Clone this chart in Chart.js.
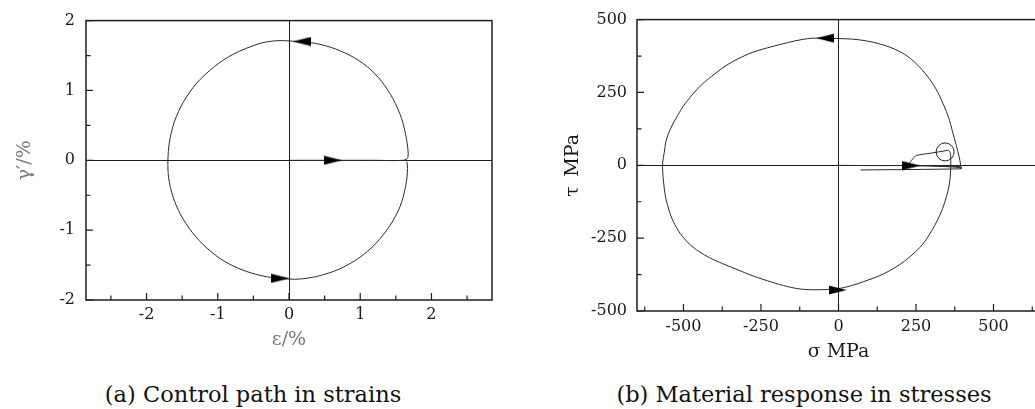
<!DOCTYPE html>
<html><head><meta charset="utf-8">
<script src="https://cdn.jsdelivr.net/npm/chart.js@4.4.0/dist/chart.umd.min.js"></script>
<style>
html,body{margin:0;padding:0;background:#fff;width:1035px;height:409px;overflow:hidden;position:relative;}
canvas{position:absolute;top:0;}
#ca{left:0;}
#cb{left:520px;}
.cap{position:absolute;font-family:"DejaVu Serif",serif;font-size:22.5px;color:#111;white-space:nowrap;transform:translateX(-50%);top:381px;}
</style></head><body>
<canvas id="ca" width="520" height="352"></canvas>
<canvas id="cb" width="530" height="370"></canvas>
<div class="cap" style="left:253px">(a) Control path in strains</div>
<div class="cap" style="left:804px">(b) Material response in stresses</div>
<script>
// ---------- (a) Control path in strains ----------
const strainEps = [0, 0.62, 1.2, 1.60, 1.67, 1.65, 1.58, 1.46, 1.30, 1.10, 0.86, 0.58, 0.28, 0.10, 0, -0.2, -0.42, -0.78, -1.05, -1.30, -1.48, -1.61, -1.68, -1.70, -1.69, -1.63, -1.52, -1.36, -1.15, -0.90, -0.60, -0.30, 0, 0.15, 0.40, 0.70, 0.98, 1.22, 1.42, 1.56, 1.64, 1.665, 1.655];
const strainGamma = [0, 0, 0, 0, 0.04, 0.30, 0.60, 0.88, 1.13, 1.34, 1.50, 1.62, 1.69, 1.70, 1.71, 1.71, 1.67, 1.52, 1.34, 1.10, 0.84, 0.55, 0.25, 0, -0.25, -0.52, -0.78, -1.03, -1.26, -1.45, -1.59, -1.67, -1.70, -1.70, -1.66, -1.56, -1.40, -1.19, -0.93, -0.66, -0.36, -0.12, -0.02];
const arrowsA_eps = [0.62, 0.18, -0.12];
const arrowsA_gamma = [0, 1.70, -1.69];
const arrowsA_dir = [0, 180, 0];
const ticksA_xMajor = [-2, -1, 0, 1, 2];
const ticksA_xMinor = [-2.5, -1.5, -0.5, 0.5, 1.5, 2.5];
const ticksA_yMajor = [-2, -1, 0, 1, 2];
const ticksA_yMinor = [-1.5, -0.5, 0.5, 1.5];

// ---------- (b) Material response in stresses ----------
const stressSigma = [-5, 100, 230, 320, 394, 396, 390, 380, 368, 355, 340, 322, 303, 281, 256, 228, 198, 164, 128, 90, 45, 0, -45, -88, -140, -194, -240, -279, -325, -363, -400, -438, -472, -501, -525, -543, -556, -562, -567, -567, -564, -559, -548, -533, -510, -480, -450, -416, -375, -331, -275, -215, -165, -120, -67, 0, 45, 92, 130, 166, 205, 240, 270, 293, 316, 336, 348, 357, 361, 362, 362, 360, 354, 346, 300, 251, 235, 228, 300, 394, 396, 71];
const stressTau = [0, -1, -1, -3, -5, -12, 25, 68, 115, 165, 205, 247, 282, 314, 343, 370, 390, 406, 418, 427, 433, 435, 436, 436, 427, 413, 400, 387, 365, 342, 313, 280, 242, 202, 160, 123, 85, 44, 10, -24, -60, -102, -150, -193, -235, -271, -296, -317, -337, -356, -380, -401, -416, -425, -427, -423, -412, -395, -380, -361, -335, -305, -273, -238, -195, -148, -108, -69, -30, -1, 30, 45, 52, 50, 42, 33, 16, 2, -2, -8, -12, -16];
const arrowsB_sigma = [235, -43, -3];
const arrowsB_tau = [-1, 436, -428];
const arrowsB_dir = [0, 180, 0];
const markerB_sigma = [344];
const markerB_tau = [46];
const ticksB_xMajor = [-500, -250, 0, 250, 500];
const ticksB_xMinor = [-625, -375, -125, 125, 375, 625];
const ticksB_yMajor = [-500, -250, 0, 250, 500];
const ticksB_yMinor = [-375, -125, 125, 375];

// ---------- helpers ----------
function arrowImg() {
  const c = document.createElement('canvas');
  c.width = 18; c.height = 10;
  const g = c.getContext('2d');
  g.fillStyle = '#000';
  g.beginPath(); g.moveTo(18, 5); g.lineTo(0, 0.6); g.lineTo(0, 9.4); g.closePath(); g.fill();
  return c;
}
const ARROW = arrowImg();
const pts = (xs, ys) => xs.map((x, i) => ({x: x, y: ys[i]}));

const framePlugin = {
  id: 'frame',
  afterDatasetsDraw(chart, args, o) {
    const {ctx, chartArea: a, scales} = chart;
    ctx.save();
    ctx.strokeStyle = '#1e1e1e';
    ctx.lineWidth = 1.2;
    ctx.beginPath();
    const xs = scales.x, ys = scales.y;
    o.xMajor.forEach(v => { const p = xs.getPixelForValue(v); ctx.moveTo(p, a.bottom); ctx.lineTo(p, a.bottom - 7); });
    o.xMinor.forEach(v => { const p = xs.getPixelForValue(v); ctx.moveTo(p, a.bottom); ctx.lineTo(p, a.bottom - 4.5); });
    o.yMajor.forEach(v => { const p = ys.getPixelForValue(v); ctx.moveTo(a.left, p); ctx.lineTo(a.left + 7, p); });
    o.yMinor.forEach(v => { const p = ys.getPixelForValue(v); ctx.moveTo(a.left, p); ctx.lineTo(a.left + 4.5, p); });
    ctx.stroke();
    ctx.lineWidth = 1.5;
    ctx.strokeRect(a.left, a.top, a.right - a.left, a.bottom - a.top);
    ctx.restore();
  }
};

const tickFont = {family: '"DejaVu Serif", serif', size: 16};
const titleFont = {family: '"DejaVu Serif", serif', size: 19};
const zeroGrid = {
  color: c => (c.tick && c.tick.value === 0) ? '#1a1a1a' : 'rgba(0,0,0,0)',
  lineWidth: 1, drawTicks: false
};

function makeChart(id, cfg) {
  return new Chart(document.getElementById(id), {
    type: 'scatter',
    data: {datasets: cfg.datasets},
    options: {
      responsive: false, animation: false, devicePixelRatio: 1,
      layout: {padding: cfg.padding},
      plugins: {legend: {display: false}, tooltip: {enabled: false}, frame: cfg.ticks},
      scales: {
        x: {
          type: 'linear', min: cfg.xMin, max: cfg.xMax,
          border: {display: false}, grid: zeroGrid,
          afterBuildTicks: s => { s.ticks = cfg.ticks.xMajor.map(v => ({value: v})); },
          ticks: {font: tickFont, color: '#1a1a1a', padding: cfg.xPad, maxRotation: 0, autoSkip: false},
          title: {display: true, text: cfg.xTitle, color: cfg.titleColor, font: titleFont, padding: {top: 0, bottom: cfg.xTitlePad}},
          afterFit: s => { s.height = cfg.xH; }
        },
        y: {
          type: 'linear', min: cfg.yMin, max: cfg.yMax,
          border: {display: false}, grid: zeroGrid,
          afterBuildTicks: s => { s.ticks = cfg.ticks.yMajor.map(v => ({value: v})); },
          ticks: {font: tickFont, color: '#1a1a1a', padding: cfg.yPad, autoSkip: false},
          title: {display: true, text: cfg.yTitle, color: cfg.titleColor, font: titleFont, padding: {top: cfg.yTitlePad, bottom: 0}},
          afterFit: s => { s.width = cfg.yW; }
        }
      }
    },
    plugins: [framePlugin]
  });
}

function arrowDataset(xs, ys, dirs) {
  return {
    data: pts(xs, ys), showLine: false,
    pointStyle: ARROW, pointRadius: 5,
    rotation: c => dirs[c.dataIndex]
  };
}

makeChart('ca', {
  padding: {top: 19, right: 28, bottom: 0, left: 0},
  xMin: -2.85, xMax: 2.85, yMin: -2, yMax: 2,
  xTitle: 'ε/%', yTitle: 'γ′/%', titleColor: '#777',
  xPad: 5, yPad: 11, xH: 52, yW: 86, xTitlePad: 0.6, yTitlePad: 13.6,
  ticks: {xMajor: ticksA_xMajor, xMinor: ticksA_xMinor, yMajor: ticksA_yMajor, yMinor: ticksA_yMinor},
  datasets: [
    arrowDataset(arrowsA_eps, arrowsA_gamma, arrowsA_dir),
    {data: pts(strainEps, strainGamma), showLine: true, borderColor: '#2a2a2a', borderWidth: 1, pointRadius: 0, tension: 0.3}
  ]
});

makeChart('cb', {
  padding: {top: 15, right: 4, bottom: 0, left: 0},
  xMin: -650, xMax: 650, yMin: -500, yMax: 500,
  xTitle: 'σ MPa', yTitle: 'τ\u2002MPa', titleColor: '#1a1a1a',
  xPad: 6, yPad: 10, xH: 59, yW: 117, xTitlePad: 6.6, yTitlePad: 41.6,
  ticks: {xMajor: ticksB_xMajor, xMinor: ticksB_xMinor, yMajor: ticksB_yMajor, yMinor: ticksB_yMinor},
  datasets: [
    arrowDataset(arrowsB_sigma, arrowsB_tau, arrowsB_dir),
    {data: pts(markerB_sigma, markerB_tau), showLine: false, pointRadius: 9, pointBorderWidth: 1, pointBorderColor: '#222', pointBackgroundColor: 'rgba(0,0,0,0)'},
    {data: pts(stressSigma, stressTau), showLine: true, borderColor: '#2a2a2a', borderWidth: 1, pointRadius: 0, tension: 0.3}
  ]
});
</script>
</body></html>
